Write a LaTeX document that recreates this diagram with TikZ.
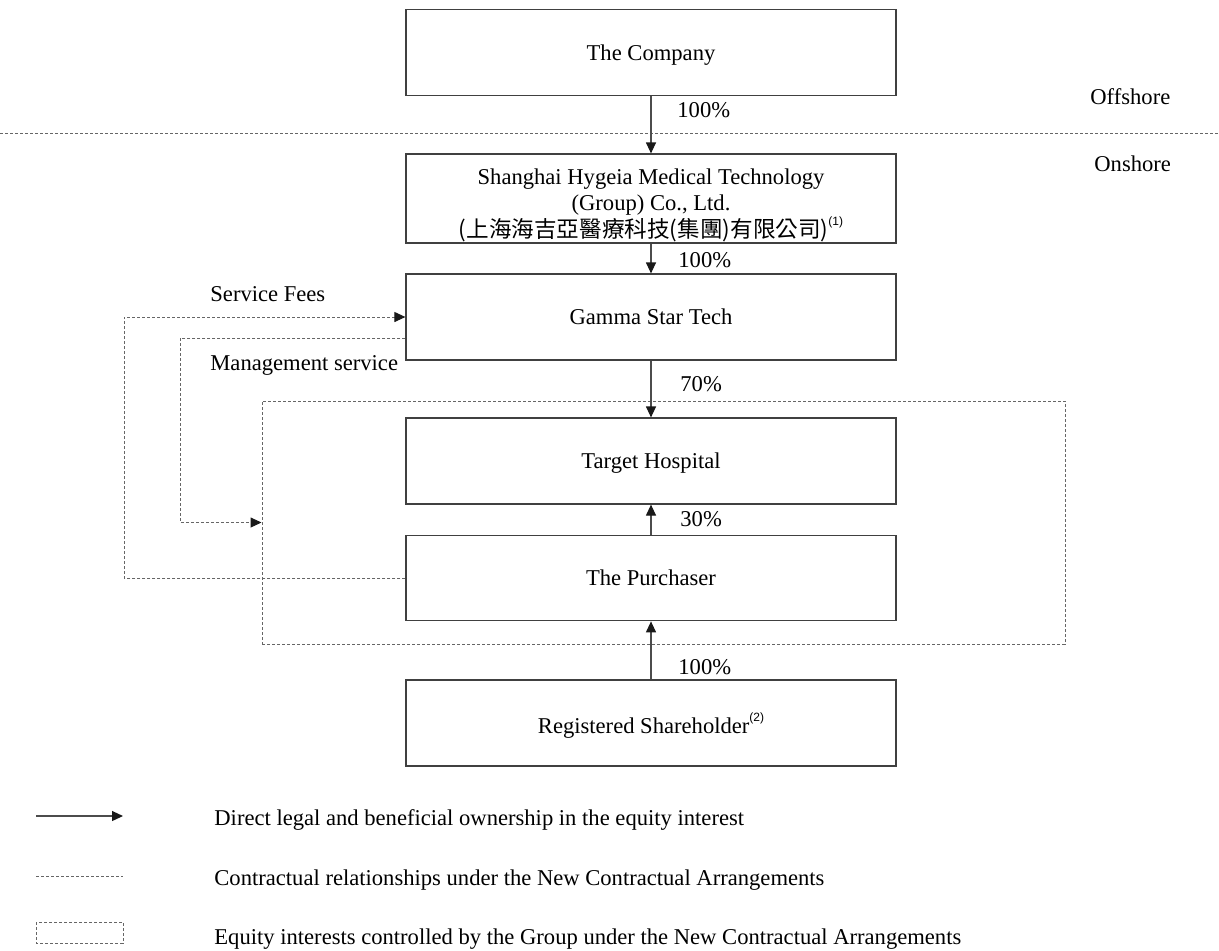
\documentclass[tikz,border=0pt]{standalone}
\usepackage{fontspec}
\setmainfont{Liberation Serif}
\newfontfamily\cjk{Noto Sans CJK TC}
\newfontfamily\notefont{Liberation Sans}
\usetikzlibrary{arrows.meta}
\newcommand{\fnref}[1]{\raisebox{1.1ex}{\notefont\fontsize{6}{6}\selectfont(#1)}}
\tikzset{
  entity/.style={draw=black!75, line width=0.6pt, minimum width=245pt, minimum height=43pt, align=center, inner sep=0pt, text depth=0pt},
  own/.style={draw=black!70, line width=0.6pt, -{Triangle[length=5.5pt,width=5pt,color=black!90]}},
  contract/.style={draw=black!60, line width=0.5pt, dash pattern=on 1.5pt off 1pt},
  contractarrow/.style={contract, -{Triangle[length=5.5pt,width=5pt,color=black!90]}},
  lbl/.style={anchor=west, inner sep=0pt, text depth=0pt},
}
\begin{document}
\begin{tikzpicture}[x=0.5pt, y=-0.5pt, font=\fontsize{11.3}{13.25}\selectfont]
\useasboundingbox (0,0) rectangle (1219,950);
	% entities
	\node[entity] (company) at (651,52.75) {The Company};
	\node[entity, minimum height=44.5pt] (shanghai) at (651,198.5) {\rule{0pt}{12.3pt}Shanghai Hygeia Medical Technology\\(Group) Co., Ltd.\\{\cjk (上海海吉亞醫療科技(集團)有限公司)}\fnref{1}};
	\node[entity] (gamma) at (651,317) {Gamma Star Tech};
	\node[entity] (target) at (651,461) {Target Hospital};
	\node[entity, minimum height=42.75pt] (purchaser) at (651,578) {The Purchaser};
	\node[entity] (regsh) at (651,723) {Registered Shareholder\fnref{2}};
	% group under contractual arrangements
	\node[contract, draw, minimum width=401.5pt, minimum height=121.5pt, inner sep=0pt] (group) at (663.5,522.5) {};
	% offshore / onshore
	\draw[contract] (0,133) -- (1219,133);
	\node[lbl] (offshore) at (1090,97) {Offshore};
	\node[lbl] (onshore) at (1094,164) {Onshore};
	% ownership
	\draw[own] (company) -- (shanghai);
	\draw[own] (shanghai) -- (gamma);
	\draw[own] (gamma) -- (target);
	\draw[own] (purchaser) -- (target);
	\draw[own] (regsh) -- (purchaser);
	\node[lbl] (pcompany) at (677,110) {100\%};
	\node[lbl] (pshanghai) at (678,260) {100\%};
	\node[lbl] (pgamma) at (680,384) {70\%};
	\node[lbl] (ppurchaser) at (680,519) {30\%};
	\node[lbl] (pregsh) at (678,667) {100\%};
	% contractual flows
	\draw[contractarrow] (purchaser.west) -- ++(-281,0) |- (gamma.west);
	\draw[contractarrow] ([yshift=-10.5pt]gamma.west) -- ++(-225,0) |- (group.west);
	\node[lbl] (fees) at (210,294) {Service Fees};
	\node[lbl] (mgmt) at (210,363) {Management service};
	% legend
	\coordinate (k1a) at (36,816);
	\coordinate (k1b) at (123,816);
	\draw[own] (k1a) -- (k1b);
	\node[lbl] (k1) at (214,817.5) {Direct legal and beneficial ownership in the equity interest};
	\coordinate (k2a) at (36,876);
	\coordinate (k2b) at (123,876);
	\draw[contract] (k2a) -- (k2b);
	\node[lbl] (k2) at (214,877.5) {Contractual relationships under the New Contractual Arrangements};
	\draw[contract] (36,922) rectangle (123,943);
	\node[lbl] (k3) at (214,937) {Equity interests controlled by the Group under the New Contractual Arrangements};
\end{tikzpicture}
\end{document}
